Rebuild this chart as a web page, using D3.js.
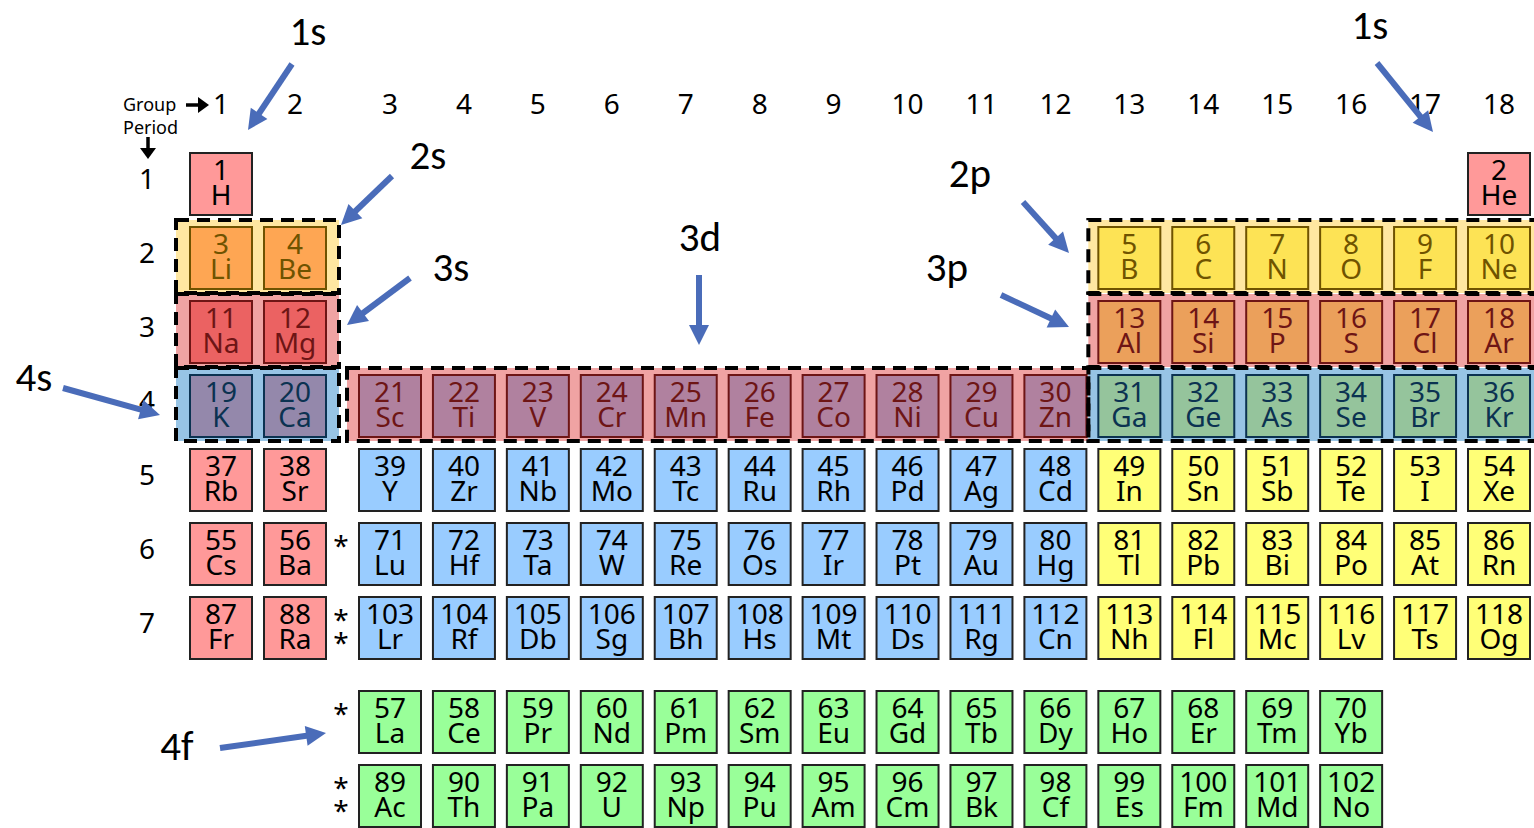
<!DOCTYPE html>
<html>
<head>
<meta charset="utf-8">
<script src="https://cdn.jsdelivr.net/npm/d3@7"></script>
<style>
  html, body { margin: 0; padding: 0; background: #fff; }
  svg { display: block; }
</style>
</head>
<body>
<div id="chart"></div>
<script>
// ---------- DATA ----------
const symbols = ("H He Li Be B C N O F Ne Na Mg Al Si P S Cl Ar K Ca Sc Ti V Cr Mn Fe Co Ni Cu Zn " +
  "Ga Ge As Se Br Kr Rb Sr Y Zr Nb Mo Tc Ru Rh Pd Ag Cd In Sn Sb Te I Xe Cs Ba La Ce Pr Nd Pm Sm " +
  "Eu Gd Tb Dy Ho Er Tm Yb Lu Hf Ta W Re Os Ir Pt Au Hg Tl Pb Bi Po At Rn Fr Ra Ac Th Pa U Np Pu " +
  "Am Cm Bk Cf Es Fm Md No Lr Rf Db Sg Bh Hs Mt Ds Rg Cn Nh Fl Mc Lv Ts Og").split(" ");
const groupLabels = d3.range(1, 19);
const periodLabels = d3.range(1, 8);
const blockColors = { s: "#ff9999", p: "#ffff77", d: "#99ccff", f: "#99ff99" };

// highlighted sub-shells (rows of blocks)
const regions = [
  { name: "2s", period: 2, g0: 1,  g1: 2,  block: "s", scheme: "yellow" },
  { name: "3s", period: 3, g0: 1,  g1: 2,  block: "s", scheme: "red" },
  { name: "4s", period: 4, g0: 1,  g1: 2,  block: "s", scheme: "blue" },
  { name: "3d", period: 4, g0: 3,  g1: 12, block: "d", scheme: "red" },
  { name: "2p", period: 2, g0: 13, g1: 18, block: "p", scheme: "yellow" },
  { name: "3p", period: 3, g0: 13, g1: 18, block: "p", scheme: "red" },
  { name: "4p", period: 4, g0: 13, g1: 18, block: "p", scheme: "blue" }
];
const schemes = {
  yellow: { bg: "#ffe7a1", ink: "#6f5300", s: "#fea653", p: "#fde355" },
  red:    { bg: "#f0a3a3", ink: "#6e1515", s: "#eb6262", p: "#eba05b", d: "#b0819f" },
  blue:   { bg: "#97c4e5", ink: "#0b3251", s: "#9488ab", p: "#95c49c" }
};

// star markers for lanthanide / actinide placeholders: row and count
const starRows = [ { r: 6, n: 1 }, { r: 7, n: 2 }, { r: 8, n: 1 }, { r: 9, n: 2 } ];

// orbital annotations: label position and arrow (from -> to), pixels
const annotations = [
  { text: "1s", tx: 308,  ty: 45,  x1: 292,  y1: 64,  x2: 248,  y2: 130 },
  { text: "1s", tx: 1370, ty: 39,  x1: 1377, y1: 63,  x2: 1433, y2: 132 },
  { text: "2s", tx: 428,  ty: 169, x1: 392,  y1: 176, x2: 341,  y2: 225 },
  { text: "3s", tx: 451,  ty: 281, x1: 410,  y1: 278, x2: 347,  y2: 325 },
  { text: "3d", tx: 700,  ty: 251, x1: 699,  y1: 275, x2: 699,  y2: 345 },
  { text: "2p", tx: 970,  ty: 187, x1: 1023, y1: 202, x2: 1069, y2: 253 },
  { text: "3p", tx: 947,  ty: 281, x1: 1001, y1: 295, x2: 1069, y2: 327 },
  { text: "4s", tx: 34,   ty: 391, x1: 63,   y1: 388, x2: 160,  y2: 415 },
  { text: "4f", tx: 177,  ty: 760, x1: 220,  y1: 748, x2: 326,  y2: 733 }
];

// ---------- LAYOUT ----------
function place(z) {
  if (z === 1) return { g: 1, r: 1 };
  if (z === 2) return { g: 18, r: 1 };
  const rowStarts = [[3, 2], [11, 3]];
  for (const [s, p] of rowStarts) {
    if (z >= s && z < s + 8) {
      const i = z - s;
      return { g: i < 2 ? i + 1 : i + 11, r: p };
    }
  }
  if (z >= 19 && z <= 36) return { g: z - 18, r: 4 };
  if (z >= 37 && z <= 54) return { g: z - 36, r: 5 };
  if (z <= 56) return { g: z - 54, r: 6 };
  if (z <= 70) return { g: z - 57 + 3, r: 8 };
  if (z <= 86) return { g: z - 68, r: 6 };
  if (z <= 88) return { g: z - 86, r: 7 };
  if (z <= 102) return { g: z - 89 + 3, r: 9 };
  return { g: z - 100, r: 7 };
}
const elements = symbols.map((sym, i) => {
  const z = i + 1, pos = place(z);
  let block;
  if (pos.r >= 8) block = "f";
  else if (pos.g <= 2 || z === 2) block = "s";
  else if (pos.g >= 13) block = "p";
  else block = "d";
  return { z, sym, g: pos.g, r: pos.r, block };
});

const W = 1534, H = 828, CELL = 64;
const x = d3.scaleLinear().domain([1, 2, 3, 18]).range([189, 263, 358, 1467]);
const y = d3.scaleLinear().domain([1, 7, 8, 9]).range([152, 596, 690, 764]);

const svg = d3.select("#chart").append("svg")
  .attr("width", W).attr("height", H)
  .attr("viewBox", `0 0 ${W} ${H}`);

const FONT = "'Noto Sans', 'Open Sans', sans-serif";
const LABEL_FONT = "Carlito, Calibri, Lato, sans-serif";

// region extents
const pads = { s: [13, 12], d: [11, 1], p: [9, 20] };
function regionBox(rg) {
  const [pl, pr] = pads[rg.block];
  const x0 = x(rg.g0) - pl, x1 = x(rg.g1) + CELL + pr;
  const y0 = y(rg.period) - 6;
  return { x: x0, y: y0, w: x1 - x0, h: 73 };
}
function regionOf(el) {
  return regions.find(rg => rg.period === el.r && el.g >= rg.g0 && el.g <= rg.g1);
}
const ink = d => { const rg = regionOf(d); return rg ? schemes[rg.scheme].ink : "#000"; };

// region backgrounds
svg.append("g").selectAll("rect").data(regions).join("rect")
  .attr("x", d => regionBox(d).x).attr("y", d => regionBox(d).y)
  .attr("width", d => regionBox(d).w).attr("height", d => regionBox(d).h)
  .attr("fill", d => schemes[d.scheme].bg);

// cells
const cells = svg.append("g").selectAll("g").data(elements).join("g")
  .attr("transform", d => `translate(${x(d.g)},${y(d.r)})`);
cells.append("rect")
  .attr("x", 1).attr("y", 1).attr("width", CELL - 2).attr("height", CELL - 2)
  .attr("fill", d => { const rg = regionOf(d); return rg ? schemes[rg.scheme][d.block] : blockColors[d.block]; })
  .attr("stroke", d => { const rg = regionOf(d); return rg ? schemes[rg.scheme].ink : "#222"; })
  .attr("stroke-width", 2);
const ct = cells.append("text")
  .attr("text-anchor", "middle")
  .attr("font-family", FONT).attr("font-size", 28)
  .attr("fill", ink);
ct.append("tspan").attr("x", CELL / 2).attr("y", 28).text(d => d.z);
ct.append("tspan").attr("x", CELL / 2).attr("y", 53).text(d => d.sym);

// dashed outlines
svg.append("g").selectAll("rect").data(regions).join("rect")
  .attr("x", d => regionBox(d).x).attr("y", d => regionBox(d).y)
  .attr("width", d => regionBox(d).w).attr("height", d => regionBox(d).h)
  .attr("fill", "none").attr("stroke", "#000")
  .attr("stroke-width", 4).attr("stroke-dasharray", "13 8");

// group numbers
svg.append("g").selectAll("text").data(groupLabels).join("text")
  .attr("x", d => x(d) + CELL / 2).attr("y", 114)
  .attr("text-anchor", "middle")
  .attr("font-family", FONT).attr("font-size", 28).attr("fill", "#000")
  .text(d => d);
// period numbers
svg.append("g").selectAll("text").data(periodLabels).join("text")
  .attr("x", 147).attr("y", d => y(d) + 37)
  .attr("text-anchor", "middle")
  .attr("font-family", FONT).attr("font-size", 28).attr("fill", "#000")
  .text(d => d);

// stars
const st = svg.append("g").selectAll("text").data(starRows).join("text")
  .attr("text-anchor", "middle")
  .attr("font-family", FONT).attr("font-size", 28).attr("fill", "#000");
st.each(function (s) {
  const t = d3.select(this);
  for (let i = 0; i < s.n; i++) {
    t.append("tspan").attr("x", 341).attr("y", y(s.r) + 34 + i * 23).text("*");
  }
});

// header "Group" / "Period"
svg.append("text").attr("x", 123).attr("y", 111)
  .attr("font-family", FONT).attr("font-size", 18).attr("fill", "#000").text("Group");
svg.append("text").attr("x", 123).attr("y", 134)
  .attr("font-family", FONT).attr("font-size", 18).attr("fill", "#000").text("Period");
function blackArrow(x1, y1, x2, y2) {
  const a = Math.atan2(y2 - y1, x2 - x1), L = 11, Wd = 8;
  const bx = x2 - L * Math.cos(a), by = y2 - L * Math.sin(a);
  svg.append("line").attr("x1", x1).attr("y1", y1).attr("x2", bx).attr("y2", by)
    .attr("stroke", "#000").attr("stroke-width", 3.5);
  svg.append("path").attr("d", d3.line()([
    [x2, y2],
    [bx + Wd * Math.sin(a), by - Wd * Math.cos(a)],
    [bx - Wd * Math.sin(a), by + Wd * Math.cos(a)]
  ]) + "Z").attr("fill", "#000");
}
blackArrow(186, 105, 209, 105);
blackArrow(148, 137, 148, 159);

// orbital labels
svg.append("g").selectAll("text").data(annotations).join("text")
  .attr("x", d => d.tx).attr("y", d => d.ty)
  .attr("text-anchor", "middle")
  .attr("font-family", LABEL_FONT).attr("font-size", 41).attr("fill", "#000")
  .text(d => d.text);

// blue arrows
const ARROW = "#4a6cb9";
annotations.forEach(d => {
  const a = Math.atan2(d.y2 - d.y1, d.x2 - d.x1), L = 20, Wd = 10;
  const bx = d.x2 - L * Math.cos(a), by = d.y2 - L * Math.sin(a);
  svg.append("line").attr("x1", d.x1).attr("y1", d.y1).attr("x2", bx + 2 * Math.cos(a)).attr("y2", by + 2 * Math.sin(a))
    .attr("stroke", ARROW).attr("stroke-width", 6);
  svg.append("path").attr("d", d3.line()([
    [d.x2, d.y2],
    [bx + Wd * Math.sin(a), by - Wd * Math.cos(a)],
    [bx - Wd * Math.sin(a), by + Wd * Math.cos(a)]
  ]) + "Z").attr("fill", ARROW);
});
</script>
</body>
</html>
